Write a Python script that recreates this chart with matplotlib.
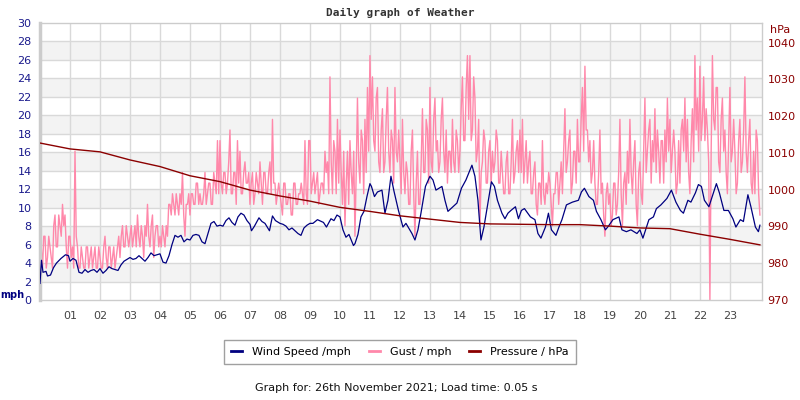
import numpy as np
import matplotlib
matplotlib.use("Agg")
import matplotlib.pyplot as plt
from matplotlib.lines import Line2D

# wind speed (mph) at irregular times (hours)
wind_hours = [0.0, 0.05, 0.1, 0.2, 0.25, 0.35, 0.45, 0.55, 0.7, 0.85, 0.95,
              1.0, 1.1, 1.2, 1.3, 1.4, 1.5, 1.6, 1.7, 1.8, 1.9,
              2.0, 2.1, 2.2, 2.3, 2.4, 2.5, 2.6, 2.7, 2.8, 2.9,
              3.0, 3.1, 3.2, 3.3, 3.4, 3.5, 3.6, 3.7, 3.8, 3.9,
              4.0, 4.1, 4.2, 4.3, 4.4, 4.5, 4.6, 4.7, 4.8, 4.9,
              5.0, 5.1, 5.2, 5.3, 5.4, 5.5, 5.6, 5.7, 5.8, 5.9,
              6.0, 6.1, 6.2, 6.3, 6.4, 6.5, 6.6, 6.7, 6.8, 6.9,
              7.0, 7.05, 7.15, 7.3, 7.4, 7.5, 7.65, 7.75, 7.85,
              8.0, 8.1, 8.2, 8.3, 8.4, 8.5, 8.6, 8.7, 8.8, 8.9,
              9.0, 9.1, 9.25, 9.45, 9.55, 9.7, 9.8, 9.9,
              10.0, 10.1, 10.2, 10.3, 10.45, 10.5, 10.6, 10.7, 10.8, 10.9,
              11.0, 11.05, 11.15, 11.25, 11.4, 11.5, 11.6, 11.7, 11.8, 11.95,
              12.1, 12.2, 12.4, 12.5, 12.6, 12.7, 12.85,
              13.0, 13.1, 13.2, 13.4, 13.5, 13.6, 13.7, 13.9,
              14.05, 14.2, 14.4, 14.5, 14.6, 14.7, 14.8, 14.95,
              15.05, 15.15, 15.25, 15.4, 15.5, 15.6, 15.7, 15.85, 15.95,
              16.05, 16.15, 16.35, 16.5, 16.6, 16.7, 16.85, 16.95,
              17.05, 17.2, 17.3, 17.4, 17.55, 17.75, 17.95,
              18.05, 18.15, 18.3, 18.45, 18.55, 18.7, 18.85, 18.95,
              19.1, 19.3, 19.4, 19.55, 19.7, 19.9,
              20.0, 20.1, 20.3, 20.45, 20.55, 20.7, 20.9,
              21.05, 21.2, 21.35, 21.45, 21.6, 21.7, 21.85, 21.95,
              22.05, 22.15, 22.3, 22.45, 22.55, 22.65, 22.8, 22.95,
              23.1, 23.2, 23.35, 23.45, 23.6, 23.7, 23.85, 23.95, 24.0]
wind_mph = [1.8, 4.3, 3.0, 3.1, 2.6, 2.7, 3.5, 4.0, 4.5, 4.9, 4.8,
            4.2, 4.5, 4.3, 3.0, 2.9, 3.3, 3.0, 3.2, 3.3, 3.0,
            3.4, 2.9, 3.2, 3.6, 3.4, 3.3, 3.2, 3.8, 4.2, 4.4,
            4.6, 4.4, 4.5, 4.8, 4.5, 4.2, 4.6, 5.1, 4.8, 4.9,
            5.0, 4.1, 4.0, 4.8, 6.0, 7.0, 6.8, 7.0, 6.3, 6.6,
            6.5, 7.0, 7.1, 7.0, 6.3, 6.1, 7.2, 8.3, 8.5, 8.0,
            8.1, 8.0, 8.6, 8.9, 8.4, 8.1, 9.0, 9.4, 9.2, 8.6,
            8.2, 7.5, 8.0, 8.9, 8.5, 8.3, 7.5, 9.1, 8.6,
            8.3, 8.2, 8.0, 7.6, 7.8, 7.5, 7.2, 7.0, 7.8, 8.1,
            8.3, 8.3, 8.7, 8.4, 7.9, 8.8, 8.6, 9.2,
            9.0, 7.6, 6.8, 7.1, 5.9, 6.1, 7.1, 9.0, 9.6, 11.2,
            12.6, 12.3, 11.2, 11.7, 11.9, 9.4, 10.8, 13.4, 11.8, 9.7,
            7.9, 8.3, 7.2, 6.5, 7.6, 9.4, 12.3,
            13.4, 13.0, 11.9, 12.3, 10.8, 9.6, 9.9, 10.5,
            12.1, 13.0, 14.6, 13.4, 10.8, 6.5, 7.9, 10.8,
            12.8, 12.3, 10.8, 9.4, 8.8, 9.4, 9.7, 10.1, 8.8,
            9.7, 9.9, 9.0, 8.7, 7.2, 6.7, 7.9, 9.4,
            7.6, 7.0, 7.9, 8.7, 10.3, 10.6, 10.8,
            11.7, 12.1, 11.2, 10.8, 9.6, 8.7, 7.6, 8.0,
            8.7, 9.0, 7.6, 7.4, 7.6, 7.2,
            7.6, 6.7, 8.7, 9.0, 9.9, 10.3, 11.0,
            11.9, 10.6, 9.7, 9.4, 10.8, 10.6, 11.6, 12.5,
            12.3, 10.8, 10.1, 11.6, 12.6, 11.6, 9.7, 9.7,
            8.8, 7.9, 8.7, 8.5, 11.4, 10.1, 7.9, 7.4, 8.1]

# gust in knots, one reading every 2.5 minutes (24 per hour), shown in mph
gust_knots = [4, 5, 3, 6, 6, 3, 4, 6, 5, 4, 3, 7, 8, 5, 5, 8, 7, 6, 9, 7, 8, 5, 3, 6,
              6, 4, 5, 3, 14, 6, 5, 3, 3, 5, 4, 3, 3, 5, 5, 3, 4, 5, 3, 4, 5, 3, 3, 5,
              4, 3, 3, 5, 6, 4, 3, 5, 5, 3, 4, 5, 3, 4, 5, 6, 4, 6, 7, 5, 5, 7, 6, 5,
              6, 7, 5, 6, 7, 5, 8, 6, 5, 7, 6, 4, 7, 6, 9, 6, 5, 7, 8, 4, 6, 7, 7, 5,
              6, 5, 7, 6, 5, 7, 6, 9, 9, 8, 10, 9, 8, 10, 9, 8, 10, 9, 12, 8, 6, 9, 9, 10,
              8, 10, 10, 9, 9, 11, 11, 9, 10, 9, 9, 10, 12, 9, 10, 11, 11, 9, 9, 12, 11, 10, 15, 10,
              15, 11, 10, 12, 12, 10, 11, 13, 16, 10, 10, 12, 12, 9, 15, 11, 14, 10, 10, 12, 13, 11, 11, 12,
              9, 11, 12, 9, 10, 12, 11, 10, 13, 11, 9, 12, 12, 10, 10, 12, 13, 10, 17, 11, 11, 9, 10, 11,
              10, 9, 8, 11, 11, 9, 9, 10, 10, 8, 8, 11, 11, 9, 9, 10, 10, 11, 10, 9, 15, 10, 9, 15,
              15, 10, 11, 12, 10, 11, 12, 9, 10, 11, 11, 10, 14, 12, 13, 10, 21, 13, 10, 15, 14, 10, 17, 11,
              16, 12, 9, 14, 7, 11, 14, 9, 15, 12, 10, 14, 6, 12, 19, 13, 11, 16, 15, 10, 17, 12, 20, 14,
              23, 17, 21, 15, 14, 19, 20, 13, 12, 16, 18, 12, 13, 17, 20, 14, 12, 16, 15, 11, 20, 14, 13, 16,
              13, 10, 17, 12, 10, 13, 12, 9, 9, 14, 16, 10, 6, 11, 14, 9, 9, 13, 18, 12, 12, 17, 16, 11,
              20, 13, 12, 17, 19, 14, 15, 12, 13, 17, 19, 14, 12, 16, 11, 14, 14, 12, 17, 13, 12, 16, 15, 12,
              14, 18, 21, 15, 15, 20, 23, 17, 23, 15, 16, 21, 19, 13, 14, 17, 7, 12, 13, 16, 15, 11, 11, 14,
              15, 11, 14, 12, 13, 16, 15, 11, 11, 14, 12, 10, 10, 13, 14, 10, 10, 13, 17, 11, 12, 14, 15, 12,
              16, 12, 17, 11, 13, 15, 11, 13, 14, 10, 10, 12, 13, 9, 8, 11, 11, 9, 15, 10, 9, 11, 10, 12,
              11, 9, 7, 10, 10, 12, 12, 9, 11, 13, 10, 14, 18, 12, 13, 15, 16, 10, 11, 14, 14, 11, 17, 13,
              13, 17, 20, 14, 22, 16, 16, 13, 15, 11, 12, 15, 11, 9, 9, 12, 16, 10, 11, 8, 6, 10, 11, 9,
              10, 7, 8, 11, 11, 8, 9, 12, 17, 10, 7, 11, 12, 9, 14, 11, 17, 12, 10, 13, 15, 9, 7, 12,
              13, 10, 9, 14, 19, 12, 14, 16, 17, 11, 15, 13, 18, 12, 16, 14, 11, 15, 15, 11, 16, 13, 19, 14,
              17, 12, 14, 16, 14, 10, 11, 15, 11, 16, 17, 14, 19, 13, 17, 12, 10, 15, 18, 13, 23, 16, 19, 14,
              22, 15, 17, 21, 15, 18, 16, 13, 0, 14, 23, 17, 16, 20, 20, 13, 12, 17, 19, 14, 16, 12, 10, 15,
              20, 13, 14, 17, 14, 10, 11, 15, 17, 12, 13, 16, 21, 14, 12, 15, 17, 11, 10, 14, 10, 16, 15, 10,
              8]

# pressure (hPa) on the hour
pressure_hours = list(range(25))
pressure_hpa = [1012.7, 1011.1, 1010.3, 1008.1, 1006.3, 1003.8, 1002.2, 999.9,
                998.3, 996.9, 995.2, 994.1, 992.9, 992.0, 991.1, 990.7, 990.6,
                990.5, 990.5, 990.1, 989.6, 989.4, 987.9, 986.5, 985.0]

hour_labels = ["%02d" % h for h in range(1, 24)]

NAVY = "#000080"
PINK = "#ff88aa"
DARKRED = "#8b0000"
GRID = "#d9d9d9"

gust_hours = np.arange(len(gust_knots)) / 24.0
gust_mph = np.array(gust_knots) * 1.1508

fig = plt.figure(figsize=(8, 4), dpi=100)
ax = fig.add_axes([40 / 800, 1 - 300 / 400, 722 / 800, 277 / 400])

ax.set_xlim(0, 24.07)
ax.set_ylim(0, 30)

# alternating grey bands + grid
for lo in range(2, 30, 4):
    ax.axhspan(lo, lo + 2, color="#f3f3f3", zorder=0, lw=0)
for y in range(2, 30, 2):
    ax.axhline(y, color=GRID, lw=1, zorder=1)
for h in range(1, 24):
    ax.axvline(h, color=GRID, lw=1, zorder=1)

ax.plot(gust_hours, gust_mph, color=PINK, lw=1.0, zorder=2)
ax.plot(wind_hours, wind_mph, color=NAVY, lw=0.9, zorder=3)

ax.set_xticks(range(1, 24))
ax.set_xticklabels(hour_labels)
ax.set_yticks(range(0, 31, 2))
ax.tick_params(axis="x", length=0, pad=8, labelsize=8, labelcolor="#444444")
ax.tick_params(axis="y", length=0, pad=6, labelsize=8, labelcolor="#1a1a8c")
for s in ["top", "right", "bottom"]:
    ax.spines[s].set_color("#cccccc")
    ax.spines[s].set_linewidth(1)
ax.spines["left"].set_color("#cccccc")
ax.spines["left"].set_linewidth(2.5)

ax2 = ax.twinx()
ax2.set_ylim(970, 970 + 277 / 3.676)
ax2.plot(pressure_hours, pressure_hpa, color=DARKRED, lw=1.0, zorder=4)
ax2.set_yticks(range(970, 1041, 10))
ax2.tick_params(axis="y", length=0, pad=4, labelsize=8, labelcolor=DARKRED)
for s in ax2.spines.values():
    s.set_visible(False)

fig.text(400 / 800, 1 - 13 / 400, "Daily graph of Weather", ha="center", va="center",
         family="DejaVu Sans Mono", weight="bold", fontsize=8, color="#333333")
fig.text(0, 1 - 295 / 400, "mph", ha="left", va="center", weight="bold",
         fontsize=7, color=NAVY)
fig.text(790 / 800, 1 - 30 / 400, "hPa", ha="right", va="center", fontsize=8, color=DARKRED)

handles = [Line2D([], [], color=NAVY, lw=2),
           Line2D([], [], color=PINK, lw=2),
           Line2D([], [], color=DARKRED, lw=2)]
leg = fig.legend(handles, ["Wind Speed /mph", "Gust / mph", "Pressure / hPa"],
                 loc="center", bbox_to_anchor=(400 / 800, 1 - 352 / 400), ncol=3,
                 fontsize=8, frameon=True, fancybox=False, handlelength=1.0,
                 columnspacing=1.6, borderpad=0.6, handletextpad=0.9)
leg.get_frame().set_edgecolor("#888888")
leg.get_frame().set_linewidth(1)

fig.text(396 / 800, 1 - 388 / 400, "Graph for: 26th November 2021; Load time: 0.05 s",
         ha="center", va="center", fontsize=8, color="#111111")

fig.savefig("out.png", dpi=100)
